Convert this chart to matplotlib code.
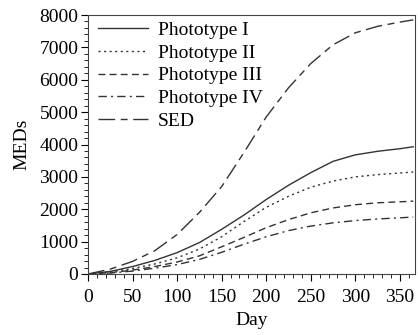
import matplotlib
matplotlib.use("Agg")
import matplotlib.pyplot as plt
from matplotlib.ticker import MultipleLocator

days = [0, 25, 50, 75, 100, 125, 150, 175, 200, 225, 250, 275, 300, 325, 350, 365]
phototype_1 = [0, 80, 230, 420, 660, 970, 1380, 1820, 2300, 2740, 3130, 3480, 3680, 3790, 3870, 3930]
phototype_2 = [0, 60, 170, 310, 500, 770, 1150, 1620, 2060, 2400, 2680, 2870, 3000, 3070, 3120, 3150]
phototype_3 = [0, 40, 120, 230, 370, 560, 840, 1130, 1430, 1680, 1890, 2040, 2140, 2200, 2230, 2250]
phototype_4 = [0, 30, 90, 180, 290, 450, 670, 920, 1150, 1340, 1480, 1580, 1650, 1700, 1735, 1760]
sed = [0, 150, 390, 720, 1220, 1900, 2700, 3750, 4850, 5750, 6500, 7080, 7450, 7650, 7780, 7850]
labels = ["Phototype I", "Phototype II", "Phototype III", "Phototype IV", "SED"]

plt.rcParams['font.family'] = ['Liberation Serif', 'DejaVu Serif']
plt.rcParams['font.size'] = 14

fig = plt.figure(figsize=(4.18, 3.35), dpi=100)
ax = fig.add_axes([88/418, 1-274/335, (415-88)/418, (274-15)/335])

col = '#333333'
lw = 1.0
ax.plot(days, phototype_1, color=col, lw=lw, label=labels[0])
ax.plot(days, phototype_2, color=col, lw=lw, dashes=(1.5, 2.5), label=labels[1])
ax.plot(days, phototype_3, color=col, lw=lw, dashes=(5, 3), label=labels[2])
ax.plot(days, phototype_4, color=col, lw=lw, dashes=(6, 3, 1.5, 3), label=labels[3])
ax.plot(days, sed, color=col, lw=lw, dashes=(12, 4, 5, 4), label=labels[4])

ax.set_xlim(0, 367)
ax.set_ylim(0, 8000)
ax.xaxis.set_major_locator(MultipleLocator(50))
ax.xaxis.set_minor_locator(MultipleLocator(10))
ax.yaxis.set_major_locator(MultipleLocator(1000))
ax.yaxis.set_minor_locator(MultipleLocator(200))
ax.tick_params(which='major', direction='out', length=5, width=0.8, pad=2)
ax.tick_params(axis='x', which='major', pad=6)
ax.tick_params(which='minor', direction='out', length=3, width=0.6)
for s in ax.spines.values():
    s.set_linewidth(0.8)
    s.set_color('#444444')

ax.set_xlabel("Day", labelpad=4)
ax.set_ylabel("MEDs", labelpad=6)

leg = ax.legend(loc='upper left', frameon=False, handlelength=2.6, handletextpad=0.5,
                labelspacing=0.26, borderaxespad=0.0, borderpad=0.2,
                bbox_to_anchor=(0.018, 0.99))

fig.savefig("out.png", dpi=100)
